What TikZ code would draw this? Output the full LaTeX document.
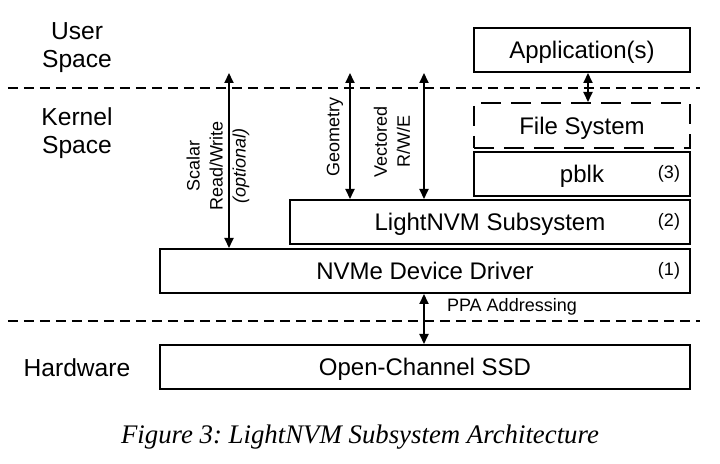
\documentclass[tikz,border=0pt]{standalone}
\usepackage{fontspec}
\setmainfont{Liberation Sans}
\newfontfamily\capfont{Liberation Serif}
\usetikzlibrary{arrows.meta}
\frenchspacing
\begin{document}
\begin{tikzpicture}[x=0.5pt, y=-0.5pt,
  layer/.style={draw, line width=1pt, minimum height=22pt, inner sep=0pt, text height=8.6pt, text depth=0pt, font=\fontsize{12}{14}\selectfont},
  dblarrow/.style={line width=1pt, {Triangle[length=5pt,width=4.5pt]}-{Triangle[length=5pt,width=4.5pt]}},
  divider/.style={line width=0.9pt, dash pattern=on 5pt off 3pt},
  tag/.style={font=\fontsize{9}{11.5}\selectfont},
  side/.style={align=center, font=\fontsize{12.3}{14}\selectfont}]
  \useasboundingbox (0,0) rectangle (720,464);
  % space dividers
  \coordinate (ul) at (8,88);   \coordinate (ur) at (700,88);
  \coordinate (kl) at (8,321);  \coordinate (kr) at (700,321);
  \draw[divider] (ul) -- (ur);
  \draw[divider] (kl) -- (kr);
  \node[side] (user) at (77,48) {User\\Space};
  \node[side] (kernel) at (77,133) {Kernel\\Space};
  \node[side] (hw) at (77,368) {Hardware};
  % layers
  \node[layer, minimum width=108pt] (app) at (582,50) {Application(s)};
  \node[layer, minimum width=108pt, minimum height=22.5pt, dash pattern=on 10pt off 5pt] (fs) at (582,125.5) {File System};
  \node[layer, minimum width=108pt] (pblk) at (582,174) {pblk};
  \node[layer, minimum width=200pt] (lnvm) at (490,222) {LightNVM Subsystem};
  \node[layer, minimum width=265pt] (nvme) at (425,271) {NVMe Device Driver};
  \node[layer, minimum width=265pt] (ssd) at (425,367) {Open-Channel SSD};
  \node[tag] (n3) at (669,174) {(3)};
  \node[tag] (n2) at (669,222) {(2)};
  \node[tag] (n1) at (669,271) {(1)};
  % interfaces
  \coordinate (sc) at (229,73);
  \coordinate (geo) at (350,73);
  \coordinate (vec) at (424,73);
  \draw[dblarrow] (sc) -- (sc |- nvme.north);
  \draw[dblarrow] (geo) -- (geo |- lnvm.north);
  \draw[dblarrow] (vec) -- (vec |- lnvm.north);
  \draw[dblarrow] ([xshift=3pt]app.south) -- ([xshift=3pt]fs.north);
  \draw[dblarrow] (nvme.south -| vec) -- (ssd.north -| vec);
  \node[tag, rotate=90, align=center] (sclab) at (218,166) {Scalar\\Read/Write\\\textit{(optional)}};
  \node[tag, rotate=90] (geolab) at (335,137) {Geometry};
  \node[tag, rotate=90, align=center] (veclab) at (392,142) {Vectored\\R/W/E};
  \node[tag, anchor=west] (ppa) at (440,307) {PPA Addressing};
  % caption
  \node[font=\capfont\itshape\fontsize{13.4}{16}\selectfont] (cap) at (360,437) {Figure 3: LightNVM Subsystem Architecture};
\end{tikzpicture}
\end{document}
